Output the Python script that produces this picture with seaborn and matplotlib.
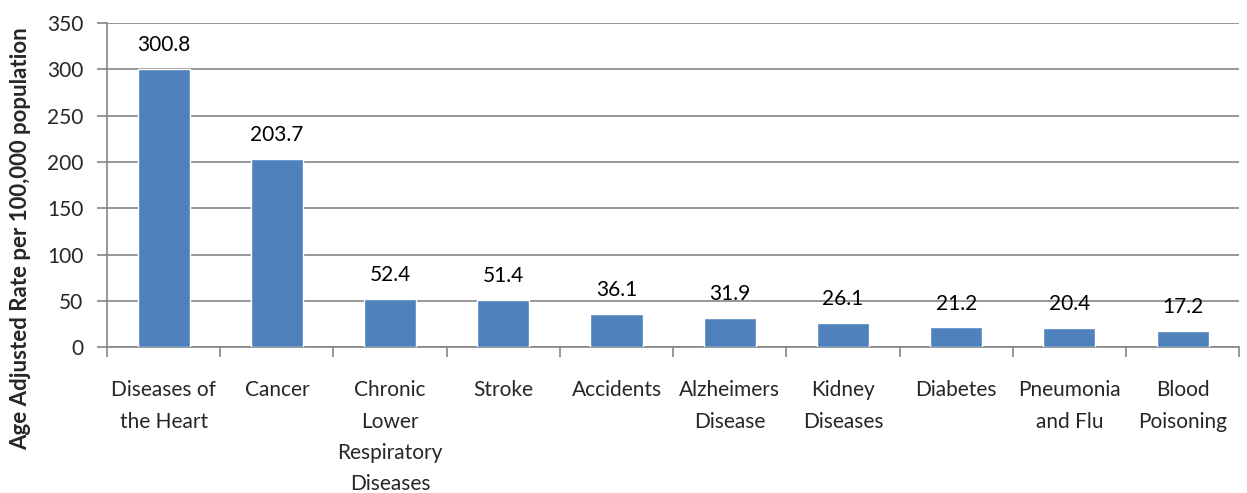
import matplotlib
matplotlib.use("Agg")
import matplotlib.pyplot as plt
import seaborn as sns
import pandas as pd

categories = ["Diseases of\nthe Heart", "Cancer", "Chronic\nLower\nRespiratory\nDiseases",
              "Stroke", "Accidents", "Alzheimers\nDisease", "Kidney\nDiseases",
              "Diabetes", "Pneumonia\nand Flu", "Blood\nPoisoning"]
values = [300.8, 203.7, 52.4, 51.4, 36.1, 31.9, 26.1, 21.2, 20.4, 17.2]
yticks = [0, 50, 100, 150, 200, 250, 300, 350]

sns.set_style("white")
plt.rcParams['font.family'] = ['Lato', 'DejaVu Sans']

df = pd.DataFrame({"cat": categories, "val": values})

fig = plt.figure(figsize=(12.47, 4.93), dpi=100)
ax = fig.add_axes([0.0858, 0.296, 0.908, 0.657])

sns.barplot(data=df, x="cat", y="val", color="#4F81BD", saturation=1, width=0.46, ax=ax, zorder=3)

ax.set_ylim(0, 350)
ax.set_xlim(-0.5, len(categories) - 0.5)
ax.set_yticks(yticks)
ax.yaxis.grid(True, color="#868686", linewidth=1.2, zorder=0)
ax.set_axisbelow(True)

for i, v in enumerate(values):
    ax.annotate(f"{v:.1f}", xy=(i, v), xytext=(0, 10), textcoords="offset points",
                ha="center", va="bottom", fontsize=15, color="#000000")

for s in ["top", "right"]:
    ax.spines[s].set_visible(False)
for s in ["left", "bottom"]:
    ax.spines[s].set_color("#868686")
    ax.spines[s].set_linewidth(1.2)

ax.set_xticks(range(len(categories)))
ax.set_xticklabels(categories, fontsize=15, linespacing=1.7, va="top")
ax.tick_params(axis="x", length=0, pad=24)
ax.tick_params(axis="y", length=7, width=1.2, color="#868686", direction="out", labelsize=15, pad=10, left=True)

# minor ticks between categories on x axis
ax.set_xticks([i - 0.5 for i in range(len(categories) + 1)], minor=True)
ax.tick_params(axis="x", which="minor", length=7, width=1.2, color="#868686", direction="out", bottom=True)

ax.set_xlabel("")
ax.set_ylabel("Age Adjusted Rate per 100,000 population", fontsize=16, fontweight="bold")
ax.yaxis.set_label_coords(-0.067, 0.336)

fig.savefig("out.png", dpi=100)
